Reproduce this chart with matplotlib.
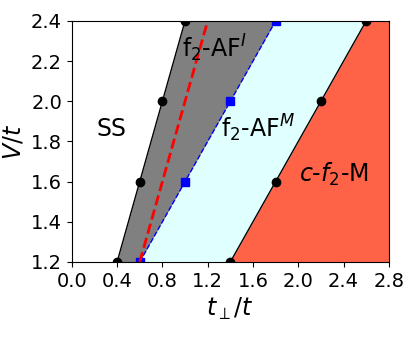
import numpy as np
import matplotlib
matplotlib.use('Agg')
import matplotlib.pyplot as plt

# phase boundaries, x = t_perp/t at each V/t
v = [1.2, 1.6, 2.0, 2.4]
ss_af1 = [0.4, 0.6, 0.8, 1.0]      # SS | f2-AF^I  (black circles)
af1_afm = [0.6, 1.0, 1.4, 1.8]     # f2-AF^I | f2-AF^M  (blue squares)
afm_cf2m = [1.4, 1.8, 2.2, 2.6]    # f2-AF^M | c-f2-M  (black circles)
red_v = [1.2, 2.4]
red_t = [0.6, 1.2]

xmax = 2.8

fig = plt.figure(figsize=(4.15, 3.38), dpi=100)
ax = fig.add_axes([0.173, 0.225, 0.764, 0.713])

ax.fill_betweenx(v, ss_af1, af1_afm, color='grey', linewidth=0)
ax.fill_betweenx(v, af1_afm, afm_cf2m, color='lightcyan', linewidth=0)
ax.fill_betweenx(v, afm_cf2m, xmax, color='tomato', linewidth=0)

ax.plot(ss_af1, v, 'ko-', lw=1, ms=6)
ax.plot(af1_afm, v, 'bs--', lw=1, ms=6)
ax.plot(afm_cf2m, v, 'ko-', lw=1, ms=6)
ax.plot(red_t, red_v, 'r--', lw=2)

fs = 17
ax.text(0.35, 1.86, 'SS', fontsize=fs, ha='center', va='center')
ax.text(0.97, 2.265, r'f$_2$-AF$^I$', fontsize=fs, ha='left', va='center')
ax.text(1.32, 1.865, r'f$_2$-AF$^M$', fontsize=fs, ha='left', va='center')
ax.text(2.01, 1.635, r'$c$-$f_2$-M', fontsize=fs, ha='left', va='center')

ax.set_xlim(0, xmax)
ax.set_ylim(1.2, 2.4)
ax.set_xticks(np.arange(0, 2.81, 0.4))
ax.set_yticks(np.arange(1.2, 2.41, 0.2))
ax.tick_params(labelsize=14)
ax.set_xlabel(r'$t_\perp/t$', fontsize=17)
ax.set_ylabel(r'$V/t$', fontsize=17)

fig.savefig('out.png', dpi=100)
